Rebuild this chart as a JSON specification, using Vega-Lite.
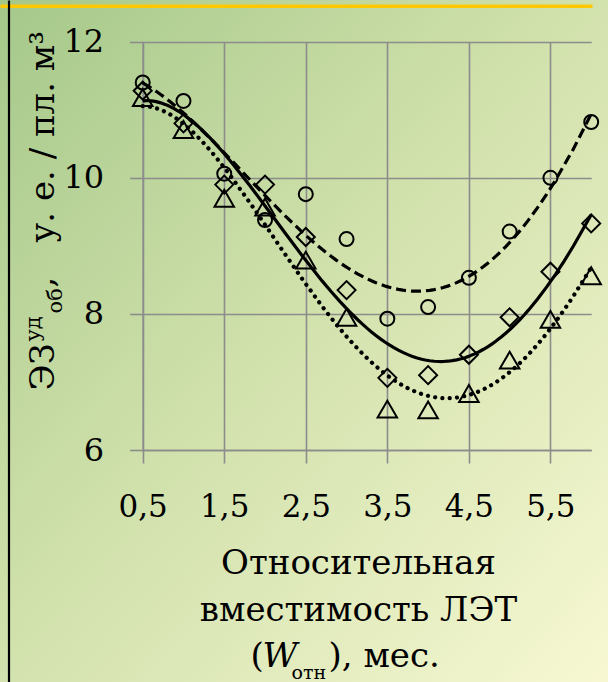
{
  "$schema": "https://vega.github.io/schema/vega-lite/v6.json",
  "width": 608,
  "height": 682,
  "autosize": {"type": "none"},
  "padding": 0,
  "background": "#cfe0aa",
  "view": {
    "stroke": null,
    "fill": {
      "gradient": "linear",
      "x1": 0, "y1": 0, "x2": 1, "y2": 1,
      "stops": [
        {"offset": 0, "color": "#a5c88a"},
        {"offset": 0.45, "color": "#cfe0aa"},
        {"offset": 1, "color": "#f7f8d2"}
      ]
    }
  },
  "config": {
    "font": "DejaVu Serif",
    "axis": {"titleFont": "DejaVu Serif", "labelFont": "DejaVu Serif", "titleColor": "#000000", "labelColor": "#000000", "titleFontWeight": "normal"}
  },
  "data": {
    "values": [
      {"w": 0.5, "series": "s1", "ez": 11.4},
      {"w": 1.0, "series": "s1", "ez": 11.13},
      {"w": 1.5, "series": "s1", "ez": 10.06},
      {"w": 2.0, "series": "s1", "ez": 9.38},
      {"w": 2.5, "series": "s1", "ez": 9.76},
      {"w": 3.0, "series": "s1", "ez": 9.1},
      {"w": 3.5, "series": "s1", "ez": 7.93},
      {"w": 4.0, "series": "s1", "ez": 8.1},
      {"w": 4.5, "series": "s1", "ez": 8.53},
      {"w": 5.0, "series": "s1", "ez": 9.21},
      {"w": 5.5, "series": "s1", "ez": 10.0},
      {"w": 6.0, "series": "s1", "ez": 10.82},
      {"w": 0.5, "series": "s2", "ez": 11.28},
      {"w": 1.0, "series": "s2", "ez": 10.8},
      {"w": 1.5, "series": "s2", "ez": 9.9},
      {"w": 2.0, "series": "s2", "ez": 9.9},
      {"w": 2.5, "series": "s2", "ez": 9.13},
      {"w": 3.0, "series": "s2", "ez": 8.35},
      {"w": 3.5, "series": "s2", "ez": 7.06},
      {"w": 4.0, "series": "s2", "ez": 7.1},
      {"w": 4.5, "series": "s2", "ez": 7.4},
      {"w": 5.0, "series": "s2", "ez": 7.95},
      {"w": 5.5, "series": "s2", "ez": 8.62},
      {"w": 6.0, "series": "s2", "ez": 9.33},
      {"w": 0.5, "series": "s3", "ez": 11.18},
      {"w": 1.0, "series": "s3", "ez": 10.71},
      {"w": 1.5, "series": "s3", "ez": 9.7},
      {"w": 2.0, "series": "s3", "ez": 9.57},
      {"w": 2.5, "series": "s3", "ez": 8.79},
      {"w": 3.0, "series": "s3", "ez": 7.95},
      {"w": 3.5, "series": "s3", "ez": 6.6},
      {"w": 4.0, "series": "s3", "ez": 6.59},
      {"w": 4.5, "series": "s3", "ez": 6.83},
      {"w": 5.0, "series": "s3", "ez": 7.32},
      {"w": 5.5, "series": "s3", "ez": 7.92},
      {"w": 6.0, "series": "s3", "ez": 8.56}
    ]
  },
  "layer": [
    {
      "transform": [{"filter": "datum.series == 's1'"}],
      "mark": {"type": "point", "shape": "circle", "size": 196, "filled": false, "stroke": "#000000", "strokeWidth": 2, "opacity": 1},
      "encoding": {
        "x": {"field": "w", "type": "quantitative",
          "scale": {"domain": [0.5, 6], "range": [142.7, 591.2], "nice": false, "zero": false},
          "axis": {"orient": "top", "domain": false, "ticks": false, "labels": false, "grid": false,
            "title": "(", "titleFont": "DejaVu Serif", "titleFontSize": 34, "titleAlign": "left", "titleBaseline": "alphabetic", "titleX": 250, "titleY": 666}},
        "y": {"field": "ez", "type": "quantitative",
          "scale": {"domain": [6, 12], "range": [450, 41.7], "nice": false, "zero": false},
          "axis": {"orient": "left", "domain": false, "ticks": false, "labels": false, "grid": false,
            "title": ",\u2003у. е. / пл. м³", "titleFont": "DejaVu Serif", "titleFontSize": 34, "titleAngle": 270, "titleAlign": "left", "titleBaseline": "alphabetic", "titleX": 53, "titleY": 287}}
      }
    },
    {
      "transform": [{"filter": "datum.series == 's2'"}],
      "mark": {"type": "point", "shape": "diamond", "size": 324, "filled": false, "stroke": "#000000", "strokeWidth": 2, "opacity": 1},
      "encoding": {
        "x": {"field": "w", "type": "quantitative",
          "scale": {"domain": [0.5, 6], "range": [142.7, 591.2], "nice": false, "zero": false},
          "axis": {"orient": "top", "domain": false, "ticks": false, "labels": false, "grid": false,
            "title": "), мес.", "titleFont": "DejaVu Serif", "titleFontSize": 34, "titleAlign": "left", "titleBaseline": "alphabetic", "titleX": 328, "titleY": 666}},
        "y": {"field": "ez", "type": "quantitative",
          "scale": {"domain": [6, 12], "range": [450, 41.7], "nice": false, "zero": false},
          "axis": null}
      }
    },
    {
      "transform": [{"filter": "datum.series == 's3'"}],
      "mark": {"type": "point", "shape": "triangle-up", "size": 380, "filled": false, "stroke": "#000000", "strokeWidth": 2, "opacity": 1},
      "encoding": {
        "x": {"field": "w", "type": "quantitative",
          "scale": {"domain": [0.5, 6], "range": [142.7, 591.2], "nice": false, "zero": false},
          "axis": null},
        "y": {"field": "ez", "type": "quantitative",
          "scale": {"domain": [6, 12], "range": [450, 41.7], "nice": false, "zero": false},
          "axis": null}
      }
    },
    {
      "transform": [
        {"filter": "datum.series == 's1'"},
        {"regression": "ez", "on": "w", "method": "poly", "order": 4}
      ],
      "mark": {"type": "line", "color": "#000000", "strokeWidth": 3.2, "strokeDash": [10, 5]},
      "encoding": {
        "x": {"field": "w", "type": "quantitative",
          "scale": {"domain": [0.5, 6], "range": [142.7, 591.2], "nice": false, "zero": false},
          "axis": {"orient": "top", "offset": -450, "values": [0.5, 1.5, 2.5, 3.5, 4.5, 5.5],
            "grid": true, "gridColor": "#8c8c8c", "gridWidth": 1.6,
            "domain": true, "domainColor": "#8c8c8c", "domainWidth": 1.6,
            "ticks": true, "tickSize": -13, "tickColor": "#8c8c8c", "tickWidth": 1.6,
            "labelExpr": "replace(format(datum.value, '.1f'), '.', ',')",
            "labelFont": "DejaVu Serif",
            "labelFontSize": 31, "labelPadding": -53, "labelBaseline": "alphabetic", "labelAlign": "center",
            "labelFlush": false, "labelOverlap": false,
            "title": ["Относительная", "вместимость ЛЭТ"], "titleFont": "DejaVu Serif", "titleFontSize": 34, "titleLineHeight": 47,
            "titleAlign": "center", "titleBaseline": "alphabetic", "titleX": 358, "titleY": 123}},
        "y": {"field": "ez", "type": "quantitative",
          "scale": {"domain": [6, 12], "range": [450, 41.7], "nice": false, "zero": false},
          "axis": {"orient": "left", "offset": -142.7, "values": [6, 8, 10, 12],
            "grid": true, "gridColor": "#8c8c8c", "gridWidth": 1.6,
            "domain": true, "domainColor": "#8c8c8c", "domainWidth": 1.6,
            "ticks": true, "tickSize": 13, "tickColor": "#8c8c8c", "tickWidth": 1.6,
            "labelFont": "DejaVu Serif",
            "labelFontSize": 32, "labelPadding": 26, "labelBaseline": "middle", "labelAlign": "right",
            "labelFlush": false, "labelOverlap": false,
            "title": "ЭЗ", "titleFont": "DejaVu Serif", "titleFontSize": 34, "titleAngle": 270, "titleAlign": "left", "titleBaseline": "alphabetic",
            "titleX": -89.7, "titleY": 390}}
      }
    },
    {
      "transform": [
        {"filter": "datum.series == 's2'"},
        {"regression": "ez", "on": "w", "method": "poly", "order": 4}
      ],
      "mark": {"type": "line", "color": "#000000", "strokeWidth": 3.2},
      "encoding": {
        "x": {"field": "w", "type": "quantitative",
          "scale": {"domain": [0.5, 6], "range": [142.7, 591.2], "nice": false, "zero": false},
          "axis": {"orient": "top", "domain": false, "ticks": false, "labels": false, "grid": false,
            "title": "W", "titleFont": "DejaVu Serif", "titleFontSize": 34, "titleFontStyle": "italic", "titleAlign": "left", "titleBaseline": "alphabetic", "titleX": 262, "titleY": 666}},
        "y": {"field": "ez", "type": "quantitative",
          "scale": {"domain": [6, 12], "range": [450, 41.7], "nice": false, "zero": false},
          "axis": {"orient": "left", "domain": false, "ticks": false, "labels": false, "grid": false,
            "title": "уд", "titleFont": "DejaVu Serif", "titleFontSize": 21, "titleAngle": 270, "titleAlign": "left", "titleBaseline": "alphabetic", "titleX": 39, "titleY": 341}}
      }
    },
    {
      "transform": [
        {"filter": "datum.series == 's3'"},
        {"regression": "ez", "on": "w", "method": "poly", "order": 4}
      ],
      "mark": {"type": "line", "color": "#000000", "strokeWidth": 4.2, "strokeDash": [0.1, 7.2], "strokeCap": "round"},
      "encoding": {
        "x": {"field": "w", "type": "quantitative",
          "scale": {"domain": [0.5, 6], "range": [142.7, 591.2], "nice": false, "zero": false},
          "axis": {"orient": "top", "domain": false, "ticks": false, "labels": false, "grid": false,
            "title": "отн", "titleFont": "DejaVu Serif", "titleFontSize": 19, "titleAlign": "left", "titleBaseline": "alphabetic", "titleX": 291, "titleY": 678}},
        "y": {"field": "ez", "type": "quantitative",
          "scale": {"domain": [6, 12], "range": [450, 41.7], "nice": false, "zero": false},
          "axis": {"orient": "left", "domain": false, "ticks": false, "labels": false, "grid": false,
            "title": "об", "titleFont": "DejaVu Serif", "titleFontSize": 21, "titleAngle": 270, "titleAlign": "left", "titleBaseline": "alphabetic", "titleX": 61, "titleY": 313}}
      }
    },
    {
      "mark": {"type": "point", "opacity": 0},
      "encoding": {
        "x": {"field": "w", "type": "quantitative",
          "scale": {"domain": [0.5, 6], "range": [0, 592], "nice": false, "zero": false},
          "axis": {"orient": "top", "offset": -5.8, "domain": true, "domainColor": "#ffc800", "domainWidth": 3.4,
            "ticks": false, "labels": false, "grid": false, "title": null}},
        "y": {"field": "ez", "type": "quantitative",
          "scale": {"domain": [6, 12], "range": [682, 0], "nice": false, "zero": false},
          "axis": {"orient": "left", "offset": -8.5, "domain": true, "domainColor": "#000000", "domainWidth": 2.2,
            "ticks": false, "labels": false, "grid": false, "title": null}}
      }
    }
  ],
  "resolve": {
    "scale": {"x": "independent", "y": "independent"},
    "axis": {"x": "independent", "y": "independent"}
  }
}
